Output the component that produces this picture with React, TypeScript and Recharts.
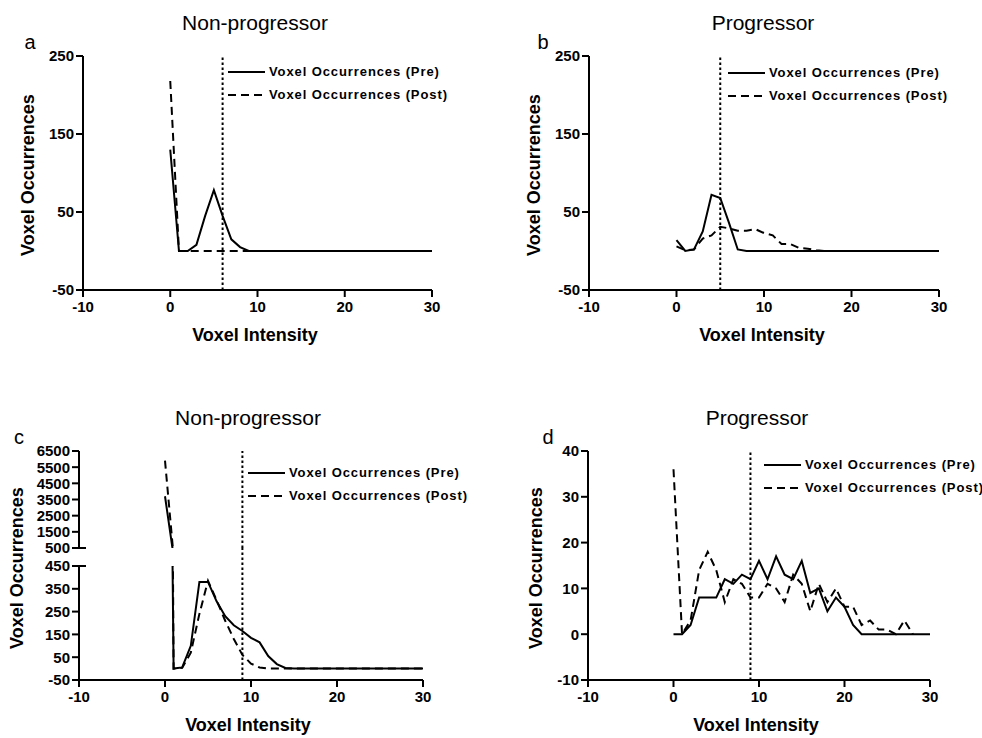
import { Legend, Line, LineChart, ReferenceLine, XAxis, YAxis } from "recharts";

// voxel intensity bins (x)
const intensity = [
  0, 1, 2, 3, 4, 5, 6, 7, 8, 9, 10, 11, 12, 13, 14, 15, 16, 17, 18, 19, 20,
  21, 22, 23, 24, 25, 26, 27, 28, 29, 30,
];
const xTicks = [-10, 0, 10, 20, 30];

// a: non-progressor
const aPre = [130, 0, 0, 8, 45, 78, 45, 15, 5, 0, 0, 0, 0, 0, 0, 0, 0, 0, 0, 0, 0, 0, 0, 0, 0, 0, 0, 0, 0, 0, 0];
const aPost = [218, 0, 0, 0, 0, 0, 0, 0, 0, 0, 0, 0, 0, 0, 0, 0, 0, 0, 0, 0, 0, 0, 0, 0, 0, 0, 0, 0, 0, 0, 0];
// b: progressor
const bPre = [14, 0, 2, 25, 72, 68, 36, 2, 0, 0, 0, 0, 0, 0, 0, 0, 0, 0, 0, 0, 0, 0, 0, 0, 0, 0, 0, 0, 0, 0, 0];
const bPost = [6, 1, 2, 16, 20, 31, 29, 26, 26, 28, 23, 20, 9, 9, 4, 3, 1, 0, null, null, null, null, null, null, null, null, null, null, null, null, null];
// c: non-progressor (broken y axis)
const cPre = [3700, 0, 5, 100, 380, 380, 295, 230, 190, 165, 135, 115, 55, 20, 3, 0, 0, 0, 0, 0, 0, 0, 0, 0, 0, 0, 0, 0, 0, 0, 0];
const cPost = [5900, 0, 3, 70, 240, 385, 300, 210, 130, 60, 22, 5, 0, 0, 0, 0, 0, 0, 0, 0, 0, 0, 0, 0, 0, 0, 0, 0, 0, 0, 0];
// d: progressor
const dPre = [0, 0, 2, 8, 8, 8, 12, 11, 13, 12, 16, 12, 17, 13, 12, 16, 9, 10, 5, 8, 6, 2, 0, 0, 0, 0, 0, 0, 0, 0, 0];
const dPost = [36, 0, 3, 14, 18, 14, 7, 12, 11, 8, 8, 11, 10, 7, 13, 11, 5, 11, 7, 10, 6, 6, 2, 3, 1, 1, 0, 3, 0, null, null];

const abTicks = [-50, 50, 150, 250];
const cTopTicks = [500, 1500, 2500, 3500, 4500, 5500, 6500];
const cLowTicks = [-50, 50, 150, 250, 350, 450];
const dTicks = [-10, 0, 10, 20, 30, 40];

const thresholds = { a: 6, b: 5, c: 9, d: 9 };

const PRE = "Voxel Occurrences (Pre)";
const POST = "Voxel Occurrences (Post)";
const seriesOrder = [PRE, POST];

const toRows = (pre: (number | null)[], post: (number | null)[]) =>
  intensity.map((x, i) => ({ x, pre: pre[i], post: post[i] }));

const YW = 70;
const MT = 20;
const MR = 70;
const XH = 40;
const TICK = 7;

type Box = { left: number; top: number; width: number; height: number };

const tickFont = { fill: "#000", fontSize: 15, fontWeight: 700 };

function LegendRows({ payload }: any) {
  const items = [...(payload || [])].sort(
    (a: any, b: any) => seriesOrder.indexOf(a.value) - seriesOrder.indexOf(b.value)
  );
  return (
    <div>
      {items.map((p: any) => (
        <div key={p.value} style={{ display: "flex", alignItems: "center", height: 23 }}>
          <svg width={37} height={4} style={{ marginRight: 4 }}>
            <line
              x1={0}
              y1={2}
              x2={37}
              y2={2}
              stroke="#000"
              strokeWidth={2}
              strokeDasharray={p.payload?.strokeDasharray}
            />
          </svg>
          <span style={{ fontSize: 13, fontWeight: 700, letterSpacing: 0.9, whiteSpace: "nowrap" }}>
            {p.value}
          </span>
        </div>
      ))}
    </div>
  );
}

function Plot({
  box,
  rows,
  yDomain,
  yTicks,
  threshold,
  hideX = false,
  legend,
  breakValue,
  refTop,
}: {
  box: Box;
  rows: any[];
  yDomain: [number, number];
  yTicks: number[];
  threshold: number;
  hideX?: boolean;
  legend?: { left: number; top: number };
  breakValue?: number;
  refTop?: number;
}) {
  const w = box.width + YW + MR;
  const bottom = hideX ? 12 : 0;
  const h = box.height + MT + (hideX ? 0 : XH) + bottom;
  const yTick = (props: any) => {
    const { x, y, payload } = props;
    const axisX = x + TICK + 2;
    return (
      <g>
        {payload.value === breakValue && (
          <line x1={axisX} y1={y} x2={axisX + 7} y2={y} stroke="#000" strokeWidth={2} />
        )}
        <text x={x} y={y} dy="0.36em" textAnchor="end" {...tickFont}>
          {payload.value}
        </text>
      </g>
    );
  };
  return (
    <div style={{ position: "absolute", left: box.left - YW, top: box.top - MT }}>
      <LineChart width={w} height={h} data={rows} margin={{ top: MT, right: MR, left: 0, bottom }}>
        <XAxis
          type="number"
          dataKey="x"
          domain={[-10, 30]}
          ticks={xTicks}
          interval={0}
          hide={hideX}
          height={XH}
          tickSize={TICK}
          tickMargin={4}
          axisLine={{ stroke: "#000", strokeWidth: 2 }}
          tickLine={{ stroke: "#000", strokeWidth: 2 }}
          tick={tickFont}
        />
        <YAxis
          width={YW}
          domain={yDomain}
          ticks={yTicks}
          interval={0}
          allowDataOverflow
          tickSize={TICK}
          tickMargin={2}
          axisLine={{ stroke: "#000", strokeWidth: 2 }}
          tickLine={{ stroke: "#000", strokeWidth: 2 }}
          tick={yTick}
        />
        {refTop !== undefined ? (
          <ReferenceLine
            segment={[
              { x: threshold, y: yDomain[0] },
              { x: threshold, y: refTop },
            ]}
            ifOverflow="visible"
            stroke="#000"
            strokeWidth={2}
            strokeDasharray="2.5 2.5"
          />
        ) : (
          <ReferenceLine x={threshold} stroke="#000" strokeWidth={2} strokeDasharray="2.5 2.5" />
        )}
        <Line
          type="linear"
          dataKey="pre"
          name={PRE}
          stroke="#000"
          strokeWidth={2}
          dot={false}
          isAnimationActive={false}
        />
        <Line
          type="linear"
          dataKey="post"
          name={POST}
          stroke="#000"
          strokeWidth={2}
          strokeDasharray="8 5"
          dot={false}
          isAnimationActive={false}
        />
        {legend && (
          <Legend
            layout="vertical"
            align="center"
            verticalAlign="middle"
            wrapperStyle={{ left: legend.left, top: legend.top, width: "auto" }}
            content={(p: any) => <LegendRows payload={p.payload} />}
          />
        )}
      </LineChart>
    </div>
  );
}

function Txt({ x, y, size, bold, rotate, children }: any) {
  return (
    <div
      style={{
        position: "absolute",
        left: x,
        top: y,
        transform: `translate(-50%, -50%)${rotate ? " rotate(-90deg)" : ""}`,
        fontSize: size,
        fontWeight: bold ? 700 : 400,
        lineHeight: 1,
        whiteSpace: "nowrap",
      }}
    >
      {children}
    </div>
  );
}

export default function App() {
  return (
    <div
      style={{
        position: "absolute",
        left: 0,
        top: 0,
        width: 982,
        height: 738,
        background: "#fff",
        color: "#000",
        fontFamily: "'Liberation Sans', Arial, sans-serif",
      }}
    >
      {/* a */}
      <Txt x={255} y={22} size={21}>Non-progressor</Txt>
      <Txt x={30} y={42} size={20}>a</Txt>
      <Txt x={28} y={175} size={18} bold rotate>Voxel Occurrences</Txt>
      <Txt x={255} y={335} size={18} bold>Voxel Intensity</Txt>
      <Plot
        box={{ left: 83, top: 56, width: 349, height: 234 }}
        rows={toRows(aPre, aPost)}
        yDomain={[-50, 250]}
        yTicks={abTicks}
        threshold={thresholds.a}
        legend={{ left: 215, top: 24 }}
      />

      {/* b */}
      <Txt x={763} y={22} size={21}>Progressor</Txt>
      <Txt x={543} y={42} size={20}>b</Txt>
      <Txt x={534} y={175} size={18} bold rotate>Voxel Occurrences</Txt>
      <Txt x={762} y={335} size={18} bold>Voxel Intensity</Txt>
      <Plot
        box={{ left: 589, top: 56, width: 350, height: 234 }}
        rows={toRows(bPre, bPost)}
        yDomain={[-50, 250]}
        yTicks={abTicks}
        threshold={thresholds.b}
        legend={{ left: 209, top: 25 }}
      />

      {/* c */}
      <Txt x={248} y={417} size={21}>Non-progressor</Txt>
      <Txt x={19} y={437} size={20}>c</Txt>
      <Txt x={17} y={568} size={18} bold rotate>Voxel Occurrences</Txt>
      <Txt x={248} y={725} size={18} bold>Voxel Intensity</Txt>
      <Plot
        box={{ left: 79, top: 566, width: 344, height: 114 }}
        rows={toRows(cPre, cPost)}
        yDomain={[-50, 450]}
        yTicks={cLowTicks}
        threshold={thresholds.c}
        breakValue={450}
        refTop={530}
      />
      <Plot
        box={{ left: 79, top: 451, width: 344, height: 97 }}
        rows={toRows(cPre, cPost)}
        yDomain={[500, 6500]}
        yTicks={cTopTicks}
        threshold={thresholds.c}
        hideX
        breakValue={500}
        legend={{ left: 239, top: 30 }}
      />

      {/* d */}
      <Txt x={757} y={417} size={21}>Progressor</Txt>
      <Txt x={548} y={437} size={20}>d</Txt>
      <Txt x={536} y={568} size={18} bold rotate>Voxel Occurrences</Txt>
      <Txt x={756} y={725} size={18} bold>Voxel Intensity</Txt>
      <Plot
        box={{ left: 588, top: 451, width: 342, height: 229 }}
        rows={toRows(dPre, dPost)}
        yDomain={[-10, 40]}
        yTicks={dTicks}
        threshold={thresholds.d}
        legend={{ left: 246, top: 22 }}
      />
    </div>
  );
}
